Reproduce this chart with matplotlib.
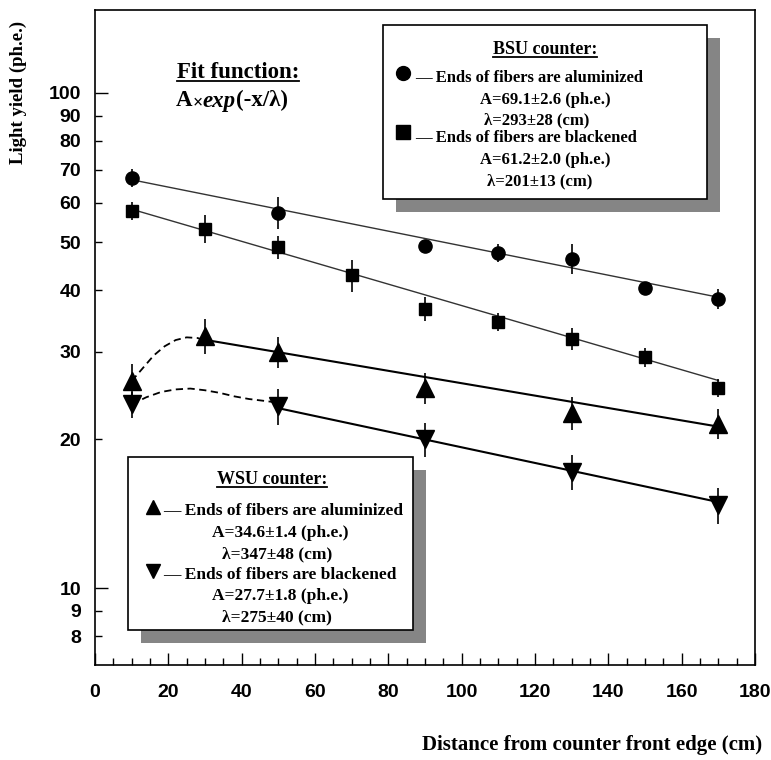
import numpy as np
import matplotlib
matplotlib.use("Agg")
import matplotlib.pyplot as plt
from matplotlib.patches import Rectangle
from matplotlib.lines import Line2D
from matplotlib.ticker import FixedLocator, FuncFormatter

# BSU counter, ends of fibers aluminized (circles)
bsu_al_x = [10, 50, 90, 110, 130, 150, 170]
bsu_al_y = [67.4, 57.3, 49.1, 47.6, 46.3, 40.4, 38.4]
bsu_al_err = [2.9, 4.3, 0.9, 2.0, 3.3, 0.8, 1.8]

# BSU counter, ends of fibers blackened (squares)
bsu_bl_x = [10, 30, 50, 70, 90, 110, 130, 150, 170]
bsu_bl_y = [57.8, 53.2, 48.9, 42.8, 36.7, 34.5, 31.9, 29.3, 25.4]
bsu_bl_err = [2.5, 3.5, 2.6, 3.1, 2.1, 1.5, 1.7, 1.3, 1.1]

# WSU counter, ends of fibers aluminized (up triangles)
wsu_al_x = [10, 30, 50, 90, 130, 170]
wsu_al_y = [26.2, 32.3, 30.0, 25.4, 22.6, 21.5]
wsu_al_err = [2.1, 2.6, 2.1, 1.8, 1.7, 1.5]

# WSU counter, ends of fibers blackened (down triangles)
wsu_bl_x = [10, 50, 90, 130, 170]
wsu_bl_y = [23.5, 23.3, 20.0, 17.2, 14.7]
wsu_bl_err = [1.4, 1.9, 1.6, 1.4, 1.2]

# fit results: A (ph.e.), lambda (cm), fitted x range
bsu_al_fit = (69.1, 293, 10, 170)
bsu_bl_fit = (61.2, 201, 10, 170)
wsu_al_fit = (34.6, 347, 30, 170)
wsu_bl_fit = (27.7, 275, 50, 170)

# hand drawn dashed guides near the front edge
wsu_al_guide_x = [10, 13, 16, 19, 22, 25, 28, 30]
wsu_al_guide_y = [26.2, 27.8, 29.5, 30.8, 31.7, 32.1, 32.0, 31.6]
wsu_bl_guide_x = [10, 14, 18, 22, 26, 30, 34, 38, 42, 46, 50]
wsu_bl_guide_y = [23.5, 24.3, 24.9, 25.2, 25.3, 25.1, 24.8, 24.4, 24.1, 23.9, 23.7]

y_major = [10, 100]
y_minor = [8, 9, 20, 30, 40, 50, 60, 70, 80, 90]

W, H = 771, 760


def px(x, y):
    # pixel position (from top left) -> figure fraction
    return x / W, 1 - y / H


plt.rcParams["font.family"] = ["Liberation Sans", "DejaVu Sans"]
plt.rcParams["font.weight"] = "bold"
serif = ["Liberation Serif", "DejaVu Serif"]

fig = plt.figure(figsize=(W / 100, H / 100), dpi=100)
ax = fig.add_axes([95 / W, 1 - 665 / H, 660 / W, 655 / H])


def fit_line(fit, **kw):
    A, lam, x0, x1 = fit
    xs = np.linspace(x0, x1, 60)
    ax.plot(xs, A * np.exp(-xs / lam), **kw)


fit_line(bsu_al_fit, color="#333333", lw=1.0)
fit_line(bsu_bl_fit, color="#333333", lw=1.0)
fit_line(wsu_al_fit, color="black", lw=1.5)
fit_line(wsu_bl_fit, color="black", lw=1.5)
ax.plot(wsu_al_guide_x, wsu_al_guide_y, color="black", lw=1.3, dashes=(4, 2.5))
ax.plot(wsu_bl_guide_x, wsu_bl_guide_y, color="black", lw=1.3, dashes=(4, 2.5))

eb = dict(color="black", ecolor="black", elinewidth=1.2, capsize=0, linestyle="none")
ax.errorbar(bsu_al_x, bsu_al_y, yerr=bsu_al_err, fmt="o", markersize=9.5, **eb)
ax.errorbar(bsu_bl_x, bsu_bl_y, yerr=bsu_bl_err, fmt="s", markersize=9, **eb)
ax.errorbar(wsu_al_x, wsu_al_y, yerr=wsu_al_err, fmt="^", markersize=13, **eb)
ax.errorbar(wsu_bl_x, wsu_bl_y, yerr=wsu_bl_err, fmt="v", markersize=13, **eb)

ax.set_xlim(0, 180)
ax.set_yscale("log")
ax.set_ylim(7, 147)
ax.set_xticks(np.arange(0, 181, 20))
ax.set_xticks(np.arange(0, 181, 5), minor=True)
ax.yaxis.set_major_locator(FixedLocator(y_major))
ax.yaxis.set_minor_locator(FixedLocator(y_minor))
fmt = FuncFormatter(lambda v, p: f"{v:g}")
ax.yaxis.set_major_formatter(fmt)
ax.yaxis.set_minor_formatter(fmt)

ax.tick_params(which="both", direction="in", width=1.0, labelsize=14)
ax.tick_params(which="major", length=9)
ax.tick_params(which="minor", length=5)
ax.tick_params(axis="y", which="both", pad=10)
ax.tick_params(axis="x", which="both", pad=14)
ax.tick_params(axis="x", which="minor", labelbottom=False)
for s in ax.spines.values():
    s.set_linewidth(1.2)

fig.text(*px(18, 92), "Light yield (ph.e.)", rotation=90, ha="center", va="center",
         family=serif, size=13.5)
fig.text(*px(762, 745), "Distance from counter front edge (cm)", ha="right", va="center",
         family=serif, size=15)

# boxes with drop shadows
def box(x0, y0, x1, y1, off=13):
    fig.add_artist(Rectangle(px(x0 + off, y1 + off), (x1 - x0) / W, (y1 - y0) / H,
                             transform=fig.transFigure, facecolor="#858585",
                             edgecolor="none", zorder=5))
    fig.add_artist(Rectangle(px(x0, y1), (x1 - x0) / W, (y1 - y0) / H,
                             transform=fig.transFigure, facecolor="white",
                             edgecolor="black", lw=1.2, zorder=6))


box(383, 25, 707, 199)
box(128, 457, 413, 630)

underlined = []


def txt(x, y, s, ha="center", size=12, ul=False, **kw):
    t = fig.text(*px(x, y), s, ha=ha, va="center", family=serif, size=size, zorder=7, **kw)
    if ul:
        underlined.append(t)
    return t


def marker(x, y, m, ms):
    fig.add_artist(Line2D([x / W], [1 - y / H], marker=m, markersize=ms, color="black",
                          linestyle="none", transform=fig.transFigure, zorder=8))


# fit function label
txt(238, 72, "Fit function:", size=16.5, ul=True)
t1 = txt(176, 101, "A", ha="left", size=16.5)
t2 = ax.annotate("\u00d7", xy=(1, 0), xycoords=t1, va="bottom", ha="left",
                 family=serif, size=13, annotation_clip=False)
t3 = ax.annotate("exp", xy=(1, 0), xycoords=t2, xytext=(0, 0), textcoords="offset points",
                 va="bottom", ha="left", family=serif, size=16.5, style="italic",
                 annotation_clip=False)
t4 = ax.annotate("(-x/\u03bb)", xy=(1, 0), xycoords=t3, va="bottom", ha="left",
                 family=serif, size=16.5, annotation_clip=False)

# BSU box
txt(545, 50, "BSU counter:", size=13, ul=True)
marker(403, 73, "o", 10)
txt(415, 78, "\u2014 Ends of fibers are aluminized", ha="left")
txt(545, 100, "A=69.1\u00b12.6 (ph.e.)")
txt(537, 120, "\u03bb=293\u00b128 (cm)")
marker(403, 132, "s", 9.5)
txt(415, 138, "\u2014 Ends of fibers are blackened", ha="left")
txt(545, 160, "A=61.2\u00b12.0 (ph.e.)")
txt(540, 181, "\u03bb=201\u00b113 (cm)")

# WSU box
txt(272, 480, "WSU counter:", size=13, ul=True)
marker(153, 507, "^", 10)
txt(163, 511, "\u2014 Ends of fibers are aluminized", ha="left", size=12.5)
txt(280, 533, "A=34.6\u00b11.4 (ph.e.)", size=12.5)
txt(277, 554, "\u03bb=347\u00b148 (cm)", size=12.5)
marker(153, 571, "v", 10)
txt(163, 575, "\u2014 Ends of fibers are blackened", ha="left", size=12.5)
txt(280, 596, "A=27.7\u00b11.8 (ph.e.)", size=12.5)
txt(277, 617, "\u03bb=275\u00b140 (cm)", size=12.5)

# underlines under titles
fig.canvas.draw()
r = fig.canvas.get_renderer()
for t in underlined:
    bb = t.get_window_extent(r)
    yy = (bb.y0 + 2) / H
    fig.add_artist(Line2D([bb.x0 / W, bb.x1 / W], [yy, yy], color="black", lw=1.3,
                          transform=fig.transFigure, zorder=8))

fig.savefig("out.png", dpi=100)
